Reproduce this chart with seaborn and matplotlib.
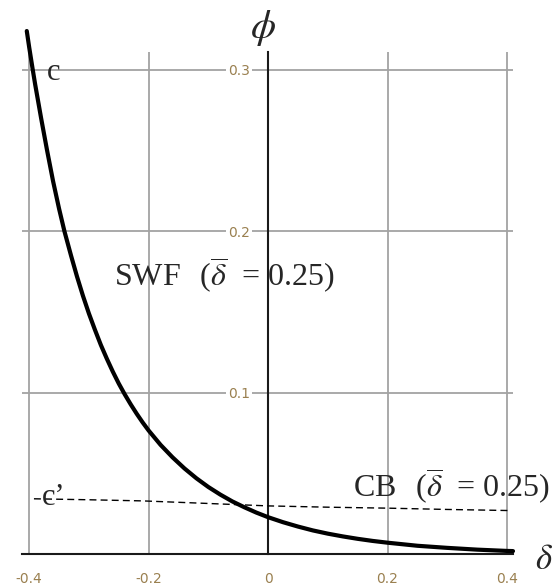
import matplotlib
matplotlib.use('Agg')
import matplotlib.pyplot as plt
import seaborn as sns
import pandas as pd

# ---- data ----
delta_swf = [-0.404, -0.400, -0.394, -0.390, -0.380, -0.370, -0.360, -0.350,
             -0.341, -0.330, -0.320, -0.310, -0.300, -0.290, -0.280, -0.270,
             -0.260, -0.250, -0.240, -0.230, -0.220, -0.210, -0.200, -0.180,
             -0.160, -0.140, -0.120, -0.100, -0.080, -0.060, -0.040, -0.020,
             0.000, 0.025, 0.050, 0.075, 0.100, 0.125, 0.150, 0.175,
             0.200, 0.250, 0.300, 0.350, 0.400, 0.410]
phi_swf = [0.324, 0.314, 0.300, 0.291, 0.270, 0.250, 0.231, 0.214,
           0.200, 0.185, 0.172, 0.160, 0.149, 0.139, 0.1295, 0.121,
           0.113, 0.1056, 0.0989, 0.0927, 0.0869, 0.0815, 0.0765, 0.0676,
           0.0599, 0.0530, 0.0469, 0.0415, 0.0368, 0.0326, 0.0290, 0.0257,
           0.0228, 0.0197, 0.0170, 0.0146, 0.0126, 0.0109, 0.0094, 0.0081,
           0.0070, 0.0051, 0.0038, 0.0027, 0.0019, 0.0018]

delta_cb = [-0.392, -0.30, -0.21, -0.10, 0.0, 0.10, 0.20, 0.30, 0.407]
phi_cb = [0.0342, 0.0336, 0.0329, 0.0313, 0.0298, 0.0290, 0.0284, 0.0276, 0.0269]

x_ticks = [-0.4, -0.2, 0.0, 0.2, 0.4]
x_tick_labels = ['-0.4', '-0.2', '0', '0.2', '0.4']
y_ticks = [0.1, 0.2, 0.3]
y_tick_labels = ['0.1', '0.2', '0.3']

label_swf = r'SWF  $\,$($\overline{\delta}$  = 0.25)'
label_cb = r'CB  $\,$($\overline{\delta}$  = 0.25)'

# ---- style ----
sns.set_style('white')
plt.rcParams['font.family'] = ['Liberation Serif', 'DejaVu Serif']
plt.rcParams['mathtext.fontset'] = 'stix'

fig = plt.figure(figsize=(5.56, 5.88), dpi=100)
ax = fig.add_axes([22 / 556, 34 / 588, 491 / 556, 502 / 588])

df_swf = pd.DataFrame({'delta': delta_swf, 'phi': phi_swf})
df_cb = pd.DataFrame({'delta': delta_cb, 'phi': phi_cb})

sns.lineplot(data=df_swf, x='delta', y='phi', ax=ax, color='black',
             linewidth=3.0, sort=False, estimator=None, zorder=4)
sns.lineplot(data=df_cb, x='delta', y='phi', ax=ax, color='black',
             linewidth=1.0, sort=False, estimator=None, zorder=3)
ax.lines[1].set_dashes([5, 3])
for ln in ax.lines:
    ln.set_clip_on(False)
    ln.set_solid_joinstyle('round')

ax.set_xlim(-0.412, 0.41)
ax.set_ylim(0, 0.311)

ax.set_xticks(x_ticks)
ax.set_xticklabels(x_tick_labels)
ax.set_yticks(y_ticks)
ax.set_yticklabels(y_tick_labels)

ax.grid(True, color='#a3a3a3', linewidth=1.3)
ax.set_axisbelow(True)

for s in ['top', 'right']:
    ax.spines[s].set_visible(False)
ax.spines['left'].set_position(('data', 0))
ax.spines['bottom'].set_position(('data', 0))
for s in ['left', 'bottom']:
    ax.spines[s].set_color('#1a1a1a')
    ax.spines[s].set_linewidth(1.5)
    ax.spines[s].set_zorder(2.5)

tick_col = '#9a8050'
ax.tick_params(axis='y', direction='inout', length=12, width=1.4,
               color='black', pad=7, labelsize=10, labelcolor=tick_col)
ax.tick_params(axis='x', direction='inout', length=8.5, width=1.4,
               color='black', pad=9, labelsize=10, labelcolor=tick_col)
for lab in ax.get_yticklabels() + ax.get_xticklabels():
    lab.set_fontfamily('DejaVu Sans')
for lab in ax.get_yticklabels():
    lab.set_bbox(dict(facecolor='white', edgecolor='none', pad=1.5))

ax.set_xlabel('')
ax.set_ylabel('')

# ---- annotations ----
ax.text(-0.371, 0.2935, 'c', fontsize=22, ha='left', va='baseline')
ax.text(-0.379, 0.0305, 'c\u2019', fontsize=22, ha='left', va='baseline')
ax.text(-0.2584, 0.166, label_swf, fontsize=23, ha='left', va='baseline')
ax.text(0.1414, 0.0354, label_cb, fontsize=23, ha='left', va='baseline',
        clip_on=False)
ax.text(-0.008, 0.326, r'$\phi$', fontsize=29, ha='center', va='center',
        clip_on=False)
ax.text(0.462, -0.004, r'$\delta$', fontsize=25, ha='center', va='center',
        clip_on=False)

fig.savefig('out.png', dpi=100)
